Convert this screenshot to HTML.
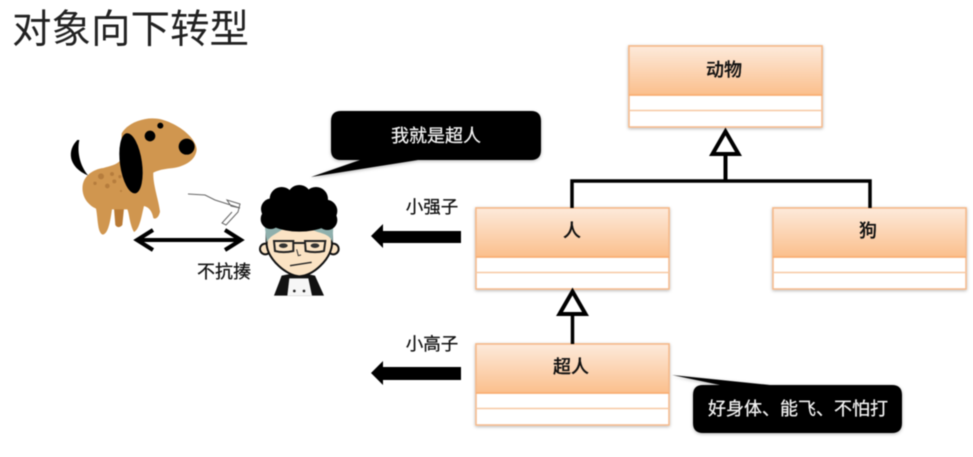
<!DOCTYPE html>
<html><head><meta charset="utf-8"><style>
html,body{margin:0;padding:0;background:#fff}
svg{display:block;filter:blur(.45px)}
text{font-family:"Liberation Sans","Noto Sans CJK SC",sans-serif;fill:#111;stroke:#111;stroke-width:.25px}
</style></head><body>
<svg width="973" height="457" viewBox="0 0 973 457" xmlns="http://www.w3.org/2000/svg">
<defs>
<linearGradient id="g" x1="0" y1="0" x2="0" y2="1"><stop offset="0" stop-color="#fdeadb"/><stop offset="1" stop-color="#fbbf8c"/></linearGradient>
<filter id="s" x="-10%" y="-20%" width="120%" height="140%"><feDropShadow dx="0" dy="1" stdDeviation="1.5" flood-color="#000" flood-opacity=".3"/></filter>
<g id="box">
<rect x="0" y="0" width="193" height="81" fill="#fff" stroke="#f5b98a" stroke-width="1.5" filter="url(#s)"/>
<rect x="0" y="0" width="193" height="49" fill="url(#g)" stroke="#f5b98a" stroke-width="1.5"/>
<line x1="0" y1="49" x2="193" y2="49" stroke="#f9ad70" stroke-width="1.5"/>
<line x1="0" y1="64.5" x2="193" y2="64.5" stroke="#f7c9a3" stroke-width="1.5"/>
</g>
</defs>
<rect width="973" height="457" fill="#fff"/>
<text x="12" y="43" font-size="39.500" style="fill:#222;stroke:none">对象向下转型</text>

<!-- UML boxes -->
<use href="#box" x="629" y="46"/>
<use href="#box" x="476" y="208"/>
<use href="#box" x="773" y="208"/>
<use href="#box" x="476" y="344"/>
<text x="724" y="76" font-size="18" font-weight="500" text-anchor="middle">动物</text>
<text x="572" y="237" font-size="18" font-weight="500" text-anchor="middle">人</text>
<text x="868" y="237" font-size="18" font-weight="500" text-anchor="middle">狗</text>
<text x="571" y="373" font-size="18" font-weight="500" text-anchor="middle">超人</text>

<!-- inheritance -->
<path d="M725.500 155V181" stroke="#000" stroke-width="4" fill="none"/>
<path d="M572 208V181H870V208" stroke="#000" stroke-width="3.500" fill="none"/>
<polygon points="725.500,131.500 712.500,154 738.500,154" fill="#fff" stroke="#000" stroke-width="4"/>
<path d="M572.500 316V344" stroke="#000" stroke-width="3.500" fill="none"/>
<polygon points="572.500,291.500 559.500,314 585.500,314" fill="#fff" stroke="#000" stroke-width="4"/>

<!-- arrows -->
<polygon points="371,236 383,224 383,231 461,231 461,243 383,243 383,248" fill="#000"/>
<polygon points="371,373 383,361 383,367 461,367 461,380 383,380 383,385" fill="#000"/>
<text x="432" y="213" font-size="17.500" text-anchor="middle">小强子</text>
<text x="432" y="350" font-size="17.500" text-anchor="middle">小高子</text>

<!-- callouts -->
<g filter="url(#s)">
<path d="M341 111H531Q541 111 541 121V150Q541 160 531 160H418L311 177L360 160H341Q331 160 331 150V121Q331 111 341 111Z" fill="#000"/>
<path d="M703 385H892Q902 385 902 395V423Q902 433 892 433H703Q693 433 693 423V395Q693 385 703 385H770L672 375L720 385Z" fill="#000"/>
</g>
<text x="436" y="142" font-size="18" text-anchor="middle" style="fill:#f2f2f2;stroke:#f2f2f2">我就是超人</text>
<text x="798" y="415" font-size="18" text-anchor="middle" style="fill:#f2f2f2;stroke:#f2f2f2">好身体、能飞、不怕打</text>

<!-- double arrow -->
<path d="M138 240H240M153 230L137 240L153 250M225 230L241 240L225 250" fill="none" stroke="#000" stroke-width="4"/>
<text x="224" y="278" font-size="18" text-anchor="middle">不抗揍</text>

<!-- scribble -->
<path d="M188 194L205 195L215 200L240 208L231 206L227 200L240 204L238 212L226 225L222 223L232 212" fill="none" stroke="#666" stroke-width="1"/>

<!-- dog -->
<g transform="translate(60,110) scale(.3333)">
<path d="M162 295L192 295L187 345Q175 358 166 345Z" fill="#b97a35"/>
<path d="M52 90C22 120 22 170 85 197C62 170 50 130 58 90Z" fill="#000"/>
<path d="M185 70C205 35 265 15 310 30C360 45 408 85 410 118C408 152 370 172 330 175C312 177 295 180 280 188C278 222 296 270 300 305C297 320 288 330 280 324C276 304 268 292 252 288C246 310 240 358 222 366C208 340 208 310 202 298C190 298 165 298 156 298C152 325 146 372 128 374C112 368 114 325 108 296C82 284 64 258 68 226C72 198 98 178 130 174C150 168 170 165 182 150Z" fill="#d0964f"/>
<g fill="#b67d3d"><circle cx="123" cy="199" r="9"/><circle cx="156" cy="192" r="6"/><circle cx="142" cy="228" r="7"/><circle cx="163" cy="214" r="6"/><circle cx="105" cy="220" r="5"/><circle cx="180" cy="200" r="5"/><circle cx="183" cy="243" r="3"/></g>
<ellipse cx="213" cy="160" rx="33" ry="91" transform="rotate(-8 213 160)" fill="#000"/>
<circle cx="270" cy="78" r="16" fill="#000"/><circle cx="301" cy="47" r="9" fill="#000"/><circle cx="380" cy="110" r="24" fill="#000"/>
</g>

<!-- man -->
<g transform="translate(250,185) scale(.3333)">
<path d="M72 332L95 272L145 262L195 272L222 332Z" fill="#111"/>
<path d="M112 332L118 280L175 280L186 332Z" fill="#f6f6f6"/>
<circle cx="133" cy="318" r="4" fill="#222"/><circle cx="162" cy="318" r="4" fill="#222"/>
<circle cx="46" cy="192" r="16" fill="#fbe3c4" stroke="#111" stroke-width="6"/>
<circle cx="250" cy="192" r="16" fill="#fbe3c4" stroke="#111" stroke-width="6"/>
<path d="M50 130V180C55 225 110 272 148 274C190 272 240 225 246 180V130Z" fill="#fbe3c4" stroke="#111" stroke-width="6"/>
<path d="M44 120H250L248 172C240 155 235 150 200 140C165 125 135 125 95 135C72 150 58 155 50 172Z" fill="#8fb0ad"/>
<g fill="#000">
<circle cx="65" cy="72" r="32"/><circle cx="95" cy="42" r="36"/><circle cx="148" cy="36" r="36"/><circle cx="198" cy="42" r="36"/><circle cx="228" cy="78" r="34"/><circle cx="62" cy="102" r="30"/><circle cx="232" cy="105" r="30"/>
<ellipse cx="148" cy="90" rx="108" ry="50"/>
</g>
<path d="M72 168H130V198Q100 205 75 198ZM165 168H226L222 198Q195 205 167 198ZM130 174H165" fill="none" stroke="#222" stroke-width="6"/>
<ellipse cx="100" cy="182" rx="13" ry="7" fill="#333"/><ellipse cx="195" cy="182" rx="13" ry="7" fill="#333"/>
<path d="M140 193L145 212L153 210" fill="none" stroke="#333" stroke-width="3"/>
<path d="M120 242L185 232" fill="none" stroke="#222" stroke-width="4"/>
</g>
</svg>
</body></html>
